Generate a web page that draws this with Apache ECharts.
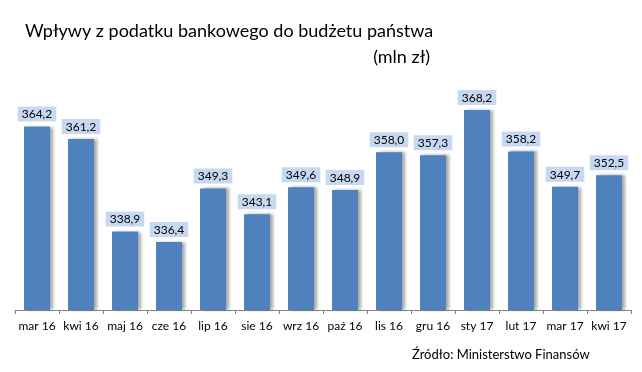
<!DOCTYPE html>
<html><head><meta charset="utf-8">
<script src="https://cdn.jsdelivr.net/npm/echarts@6/dist/echarts.min.js"></script>
<style>html,body{margin:0;padding:0;background:#fff}#c{width:642px;height:372px}</style>
</head><body><div id="c"></div>
<script>
const categories = ['mar 16','kwi 16','maj 16','cze 16','lip 16','sie 16','wrz 16','paź 16','lis 16','gru 16','sty 17','lut 17','mar 17','kwi 17'];
const values = [364.2,361.2,338.9,336.4,349.3,343.1,349.6,348.9,358.0,357.3,368.2,358.2,349.7,352.5];
const titleText = 'Wpływy z podatku bankowego do budżetu państwa';
const unitText = '(mln zł)';
const sourceText = 'Źródło: Ministerstwo Finansów';
const FONT = 'Lato, "Open Sans", sans-serif';
const chart = echarts.init(document.getElementById('c'), null, {renderer:'canvas'});
chart.setOption({
  animation:false,
  backgroundColor:'#fff',
  graphic:[
    {type:'text', left:25, top:22, style:{text:titleText, font:'18px '+FONT, fill:'#000'}},
    {type:'text', right:212, top:48, style:{text:unitText, font:'18px '+FONT, fill:'#000', textAlign:'right'}},
    {type:'text', left:412, top:348, style:{text:sourceText, font:'13px '+FONT, fill:'#000'}}
  ],
  grid:{left:15, right:11, top:61, bottom:62},
  xAxis:{type:'category', data:categories, boundaryGap:true,
    axisLine:{lineStyle:{color:'#868686'}},
    axisTick:{show:true, length:4, interval:0, lineStyle:{color:'#868686'}},
    axisLabel:{color:'#000', fontSize:12, fontFamily:FONT, margin:10, interval:0, hideOverlap:false}},
  yAxis:{type:'value', min:320, max:380, show:false, splitLine:{show:false}},
  series:[{type:'bar', data:values, barWidth:26,
    itemStyle:{color:'#4f81bd', shadowColor:'rgba(0,0,0,0.35)', shadowBlur:3, shadowOffsetX:3, shadowOffsetY:0},
    label:{show:true, position:'top', distance:5, color:'#000', fontSize:12, fontFamily:FONT,
      backgroundColor:'#c6d9f1', padding:[2,4,1,4],
      formatter:p=>p.value.toFixed(1).replace('.',',')}}]
});
</script></body></html>
